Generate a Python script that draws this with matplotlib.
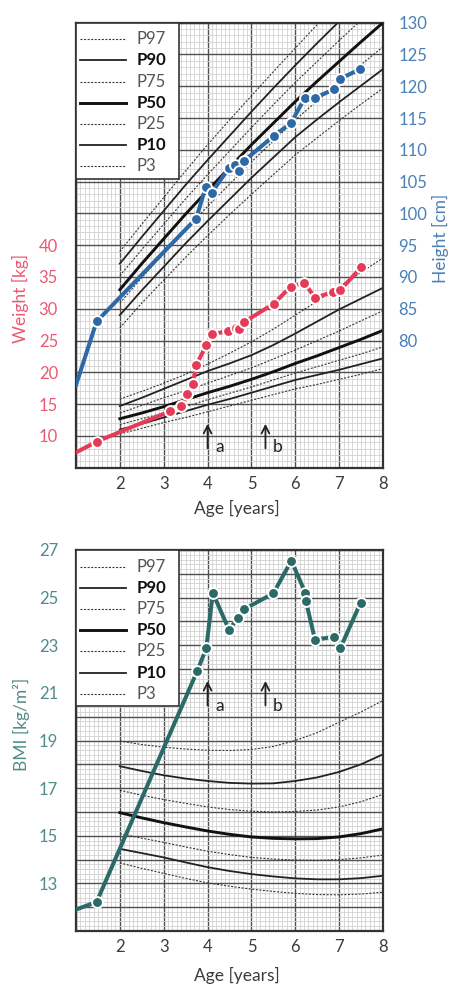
import matplotlib.pyplot as plt
from matplotlib.ticker import MultipleLocator, FuncFormatter, FixedLocator
from matplotlib.lines import Line2D
from matplotlib.patches import Rectangle

plt.rcParams['font.family'] = ['Lato', 'DejaVu Sans']

W, H = 450, 985

# Perzentilen, ab 2 Jahre, halbjährlich
pct_age = [2.0, 2.5, 3.0, 3.5, 4.0, 4.5, 5.0, 5.5, 6.0, 6.5, 7.0, 7.5, 8.0]
pct_names = ['P97', 'P90', 'P75', 'P50', 'P25', 'P10', 'P3']

# Gewicht [kg]
w_p97 = [15.8, 17.0, 18.3, 19.7, 21.3, 23.0, 24.8, 26.8, 29.0, 31.2, 33.5, 35.7, 38.0]
w_p90 = [14.7, 16.0, 17.4, 18.8, 20.2, 21.4, 22.7, 24.3, 26.1, 28.0, 29.9, 31.6, 33.3]
w_p75 = [13.6, 14.8, 16.0, 17.1, 18.3, 19.5, 20.7, 22.1, 23.5, 25.0, 26.5, 28.1, 29.7]
w_p50 = [12.7, 13.6, 14.6, 15.7, 16.8, 17.8, 18.9, 20.1, 21.4, 22.6, 23.9, 25.2, 26.6]
w_p25 = [11.8, 12.7, 13.6, 14.6, 15.7, 16.7, 17.7, 18.8, 19.9, 20.9, 21.9, 22.9, 24.0]
w_p10 = [11.0, 11.9, 12.9, 13.9, 14.9, 15.8, 16.8, 17.8, 18.8, 19.6, 20.4, 21.3, 22.2]
w_p3 = [10.3, 11.2, 12.1, 12.9, 13.8, 14.7, 15.6, 16.5, 17.4, 18.1, 18.9, 19.7, 20.6]

# Größe [cm]
h_p97 = [94.0, 98.3, 102.5, 106.7, 110.8, 114.7, 118.5, 122.3, 126.0, 129.7, 133.3, 136.9, 140.5]
h_p90 = [92.1, 96.3, 100.4, 104.5, 108.4, 112.2, 116.0, 119.7, 123.3, 126.8, 130.2, 133.6, 137.0]
h_p75 = [90.2, 94.3, 98.3, 102.3, 106.1, 109.8, 113.5, 117.1, 120.6, 123.9, 127.2, 130.4, 133.6]
h_p50 = [88.0, 92.1, 96.0, 99.9, 103.6, 107.2, 110.8, 114.2, 117.6, 120.8, 123.9, 127.0, 130.0]
h_p25 = [85.9, 89.9, 93.7, 97.5, 101.1, 104.6, 108.1, 111.4, 114.7, 117.7, 120.6, 123.4, 126.2]
h_p10 = [84.0, 87.9, 91.6, 95.3, 98.8, 102.2, 105.6, 108.8, 112.0, 114.8, 117.5, 120.1, 122.7]
h_p3 = [82.0, 85.9, 89.5, 93.1, 96.5, 99.8, 103.0, 106.1, 109.2, 111.9, 114.6, 117.2, 119.7]

# BMI [kg/m2]
b_p97 = [18.98, 18.83, 18.72, 18.64, 18.59, 18.58, 18.62, 18.75, 19.00, 19.33, 19.77, 20.20, 20.68]
b_p90 = [17.92, 17.72, 17.54, 17.40, 17.30, 17.22, 17.19, 17.20, 17.30, 17.45, 17.68, 18.00, 18.42]
b_p75 = [16.91, 16.70, 16.52, 16.36, 16.21, 16.10, 16.03, 16.00, 16.02, 16.08, 16.21, 16.43, 16.74]
b_p50 = [15.97, 15.75, 15.55, 15.37, 15.20, 15.06, 14.95, 14.89, 14.87, 14.88, 14.95, 15.09, 15.29]
b_p25 = [15.09, 14.90, 14.72, 14.53, 14.35, 14.21, 14.09, 14.02, 13.98, 13.97, 14.00, 14.07, 14.19]
b_p10 = [14.45, 14.27, 14.09, 13.88, 13.68, 13.52, 13.39, 13.29, 13.21, 13.17, 13.17, 13.22, 13.32]
b_p3 = [13.86, 13.63, 13.42, 13.21, 13.02, 12.88, 12.76, 12.66, 12.58, 12.53, 12.52, 12.55, 12.63]

# Messwerte des Patienten
height_age = [1.0, 1.47, 3.74, 3.96, 4.09, 4.48, 4.63, 4.72, 4.82, 5.51, 5.90, 6.22, 6.45, 6.88, 7.03, 7.48]
height_cm = [73.0, 83.0, 99.2, 104.2, 103.2, 107.1, 107.6, 106.7, 108.2, 112.2, 114.2, 118.2, 118.2, 119.5, 121.2, 122.7]

weight_age = [1.0, 1.47, 3.15, 3.40, 3.53, 3.66, 3.74, 3.97, 4.09, 4.47, 4.64, 4.72, 4.83,
              5.51, 5.90, 6.21, 6.45, 6.87, 7.02, 7.50]
weight_kg = [7.4, 9.1, 13.9, 14.7, 16.6, 18.1, 21.1, 24.3, 26.0, 26.5, 27.0, 26.8, 27.9,
             30.8, 33.5, 34.1, 31.7, 32.7, 32.9, 36.5]

bmi_age = [1.0, 1.47, 3.76, 3.97, 4.12, 4.49, 4.69, 4.83, 5.50, 5.91, 6.23, 6.24, 6.45, 6.89, 7.03, 7.49]
bmi_val = [11.9, 12.22, 21.9, 22.87, 25.2, 23.64, 24.15, 24.51, 25.18, 26.55, 25.2, 24.87, 23.23, 23.36, 22.89, 24.79]

event_age = [4.0, 5.32]
event_label = ['a', 'b']

weight_pct = dict(zip(pct_names, [w_p97, w_p90, w_p75, w_p50, w_p25, w_p10, w_p3]))
height_pct = dict(zip(pct_names, [h_p97, h_p90, h_p75, h_p50, h_p25, h_p10, h_p3]))
bmi_pct = dict(zip(pct_names, [b_p97, b_p90, b_p75, b_p50, b_p25, b_p10, b_p3]))

dots = (0, (1.8, 1.4))
styles = {
    'P97': dict(color='#333333', linewidth=0.8, linestyle=dots),
    'P90': dict(color='#222222', linewidth=1.3, linestyle='-'),
    'P75': dict(color='#333333', linewidth=0.8, linestyle=dots),
    'P50': dict(color='#111111', linewidth=2.1, linestyle='-'),
    'P25': dict(color='#333333', linewidth=0.8, linestyle=dots),
    'P10': dict(color='#222222', linewidth=1.3, linestyle='-'),
    'P3': dict(color='#333333', linewidth=0.8, linestyle=dots),
}

RED = '#e63b57'
BLUE = '#2d69a6'
TEAL = '#2b6a67'
C_RED = '#ea5a72'
C_BLUE = '#4a80b8'
C_TEAL = '#4f8c88'
GREY = '#3c3c3c'


def fig_box(x0, y0, x1, y1):
    # Pixel (von oben links) -> Figure-Koordinaten
    return [x0 / W, 1 - y1 / H, (x1 - x0) / W, (y1 - y0) / H]


def setup_grid(ax, ymin, ymax, ymaj, yminor):
    ax.set_xlim(1, 8)
    ax.set_ylim(ymin, ymax)
    ax.xaxis.set_major_locator(MultipleLocator(1))
    ax.xaxis.set_minor_locator(MultipleLocator(0.1))
    ax.yaxis.set_major_locator(MultipleLocator(ymaj))
    ax.yaxis.set_minor_locator(MultipleLocator(yminor))
    ax.grid(which='minor', color='#d2d2d2', linewidth=0.6)
    ax.grid(which='major', color='#505050', linewidth=1.0)
    ax.set_axisbelow(True)
    ax.tick_params(which='both', length=0)
    ax.tick_params(axis='x', pad=6, labelsize=12, labelcolor=GREY)
    ax.xaxis.set_major_formatter(FuncFormatter(lambda v, p: '' if v < 1.5 else f'{v:.0f}'))
    for s in ax.spines.values():
        s.set_color('#333333')
        s.set_linewidth(1.6)


def draw_legend(fig, top):
    fig.add_artist(Rectangle((76 / W, 1 - (top + 156) / H), 103 / W, 156 / H,
                             transform=fig.transFigure, facecolor='white',
                             edgecolor='#333333', linewidth=1.2, zorder=5))
    for i, name in enumerate(pct_names):
        y = 1 - (top + 16.5 + i * 21.2) / H
        fig.add_artist(Line2D([80 / W, 126.5 / W], [y, y], transform=fig.transFigure,
                              zorder=6, **styles[name]))
        bold = styles[name]['linestyle'] == '-'
        fig.text(137 / W, y, name, ha='left', va='center', fontsize=12,
                 fontweight='bold' if bold else 'normal',
                 color='#111111' if bold else '#555555', zorder=7)


def draw_events(ax, y_tail, y_head, y_text):
    for age, lab in zip(event_age, event_label):
        ax.annotate('', xy=(age, y_head), xytext=(age, y_tail),
                    arrowprops=dict(arrowstyle='->,head_length=0.55,head_width=0.28',
                                    lw=1.3, color='#222222', shrinkA=0, shrinkB=0))
        ax.text(age + 0.17, y_text, lab, ha='left', va='baseline', fontsize=12.5,
                color='#222222')


fig = plt.figure(figsize=(W / 100, H / 100), dpi=100)

# --- Gewicht / Größe ---
ax = fig.add_axes(fig_box(76, 22.7, 383, 467.7))
setup_grid(ax, 5, 75, 5, 1)
ax.yaxis.set_major_formatter(FuncFormatter(lambda v, p: f'{v:.0f}' if 9.5 < v < 40.5 else ''))
ax.tick_params(axis='y', pad=13, labelsize=12, labelcolor=C_RED)

ax2 = ax.twinx()
ax2.set_ylim(60, 130)
ax2.yaxis.set_major_locator(FixedLocator(range(80, 131, 5)))
ax2.tick_params(axis='y', length=0, pad=11, labelsize=12, labelcolor=C_BLUE)
for s in ax2.spines.values():
    s.set_visible(False)

for name in pct_names:
    ax.plot(pct_age, weight_pct[name], zorder=2, **styles[name])
    ax2.plot(pct_age, height_pct[name], zorder=2, **styles[name])

ax.plot(weight_age, weight_kg, color=RED, linewidth=2.9, marker='o', markersize=7.8,
        markeredgecolor='white', markeredgewidth=1.4,
        markevery=list(range(1, len(weight_age))), zorder=4)
ax2.plot(height_age, height_cm, color=BLUE, linewidth=2.9, marker='o', markersize=7.8,
         markeredgecolor='white', markeredgewidth=1.4,
         markevery=list(range(1, len(height_age))), zorder=4)

draw_events(ax, 8.05, 11.9, 7.5)
draw_legend(fig, 22.7)

fig.text(20 / W, 1 - 298 / H, 'Weight [kg]', rotation=90, ha='center', va='center',
         fontsize=12.5, color=C_RED)
fig.text(440 / W, 1 - 238 / H, 'Height [cm]', rotation=90, ha='center', va='center',
         fontsize=12.5, color=C_BLUE)
fig.text(237 / W, 1 - 508 / H, 'Age [years]', ha='center', va='center',
         fontsize=12.5, color=GREY)

# --- BMI ---
bx = fig.add_axes(fig_box(76, 550, 383, 931))
setup_grid(bx, 11, 27, 1, 0.2)
bx.yaxis.set_major_formatter(FuncFormatter(
    lambda v, p: f'{v:.0f}' if round(v) % 2 == 1 and v > 12.5 else ''))
bx.tick_params(axis='y', pad=13, labelsize=12, labelcolor=C_TEAL)

for name in pct_names:
    bx.plot(pct_age, bmi_pct[name], zorder=2, **styles[name])

bx.plot(bmi_age, bmi_val, color=TEAL, linewidth=2.9, marker='o', markersize=7.8,
        markeredgecolor='white', markeredgewidth=1.4,
        markevery=list(range(1, len(bmi_age))), zorder=4)

draw_events(bx, 20.47, 21.5, 20.22)
draw_legend(fig, 550)

fig.text(21 / W, 1 - 724 / H, 'BMI [kg/m²]', rotation=90, ha='center', va='center',
         fontsize=12.5, color=C_TEAL)
fig.text(237 / W, 1 - 975 / H, 'Age [years]', ha='center', va='center',
         fontsize=12.5, color=GREY)

fig.savefig('out.png', dpi=100)
